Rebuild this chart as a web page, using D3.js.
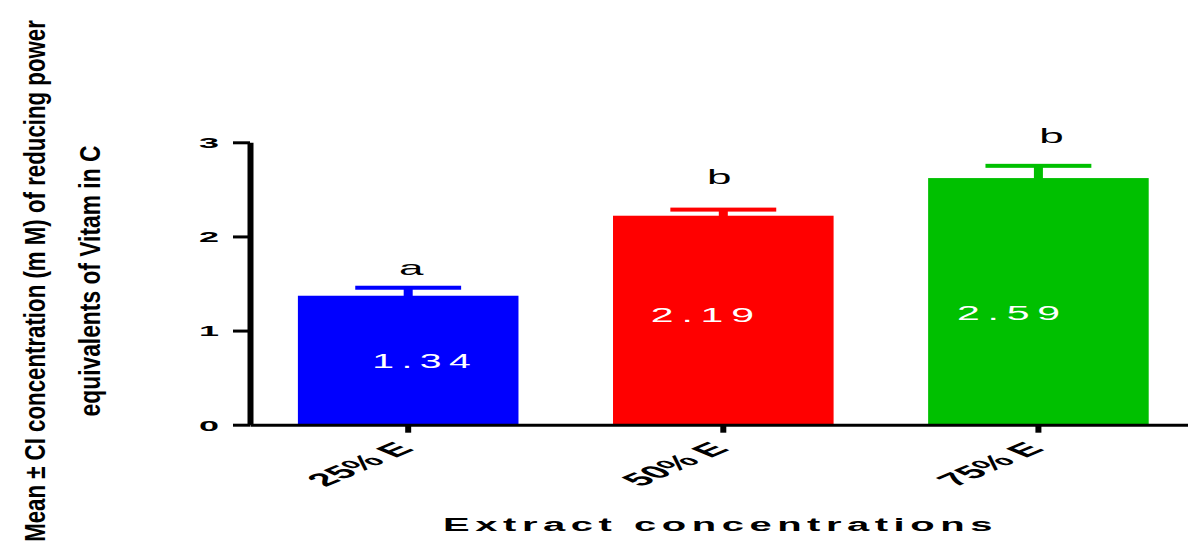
<!DOCTYPE html>
<html><head><meta charset="utf-8">
<script src="https://cdn.jsdelivr.net/npm/d3@7"></script>
<style>body{margin:0;background:#fff} svg{display:block}</style>
</head><body>
<svg id="c" width="1188" height="552"></svg>
<script>
// ---- data ----
const categories = ["25% E", "50% E", "75% E"];
const means = [1.37, 2.22, 2.62];
const errors = [0.085, 0.065, 0.13];
const valueLabels = ["1.34", "2.19", "2.59"];
const letters = ["a", "b", "b"];
const colors = ["#0000ff", "#ff0000", "#00c000"];
const yTicks = [0, 1, 2, 3];
const xTitle = "Extract concentrations";
const yTitleLines = ["Mean ± CI concentration (m M) of reducing power", "equivalents of Vitam in C"];

// ---- layout ----
const svg = d3.select("#c");
const FONT = "'Liberation Sans', Arial, Helvetica, sans-serif";
const x = d3.scaleBand().domain(categories).range([250, 1196.6]).paddingInner(0.3).paddingOuter(0.152);
const y = d3.scaleLinear().domain([0, 3]).range([424.7, 142.3]);
const data = categories.map((c, i) => ({c, v: means[i], e: errors[i], lab: valueLabels[i], let: letters[i], col: colors[i], i}));

function fitWidth(sel, target) {
  sel.each(function() {
    const len = this.getComputedTextLength();
    const sx = target / len;
    const t = d3.select(this).attr("data-t") || "";
    d3.select(this).attr("transform", t + ` scale(${sx},1)`);
  });
}

// bars
svg.append("g").selectAll("rect").data(data).join("rect")
  .attr("x", d => x(d.c)).attr("width", x.bandwidth())
  .attr("y", d => y(d.v)).attr("height", d => y(0) - y(d.v))
  .attr("fill", d => d.col);

// error bars
const eg = svg.append("g");
eg.selectAll(".stem").data(data).join("rect")
  .attr("x", d => x(d.c) + x.bandwidth() / 2 - 4.5).attr("width", 9)
  .attr("y", d => y(d.v + d.e)).attr("height", d => y(d.v) - y(d.v + d.e) + 1)
  .attr("fill", d => d.col);
eg.selectAll(".cap").data(data).join("rect")
  .attr("x", d => x(d.c) + x.bandwidth() / 2 - x.bandwidth() * 0.24).attr("width", x.bandwidth() * 0.48)
  .attr("y", d => y(d.v + d.e) - 2).attr("height", 4)
  .attr("fill", d => d.col);

// significance letters
const letDx = [3, -4, 13], letGap = [13, 26, 23];
svg.append("g").selectAll("text").data(data).join("text")
  .attr("transform", d => `translate(${x(d.c) + x.bandwidth() / 2 + letDx[d.i]},${y(d.v + d.e) - letGap[d.i]}) scale(2.2,1)`)
  .attr("text-anchor", "middle").attr("font-family", FONT).attr("font-size", 20)
  .attr("fill", "#000").text(d => d.let);

// value labels inside bars
const labDx = [17, -17, -26], labY = [368, 322, 320], labW = [106, 111, 111];
svg.append("g").selectAll("text").data(data).join("text")
  .attr("data-t", d => `translate(${x(d.c) + x.bandwidth() / 2 + labDx[d.i]},${labY[d.i]})`)
  .attr("text-anchor", "middle").attr("font-family", FONT).attr("font-size", 21)
  .attr("letter-spacing", 4).attr("fill", "#fff").text(d => d.lab)
  .each(function(d) { fitWidth(d3.select(this), labW[d.i]); });

// y axis
const ya = svg.append("g").attr("transform", "translate(250,0)")
  .call(d3.axisLeft(y).tickValues(yTicks).tickSize(17).tickSizeOuter(0).tickFormat(d3.format("d")));
ya.select(".domain").attr("stroke", "#000").attr("stroke-width", 6);
ya.selectAll(".tick line").attr("stroke", "#000").attr("stroke-width", 3);
ya.selectAll(".tick text").attr("x", 0).attr("dy", "0.36em")
  .attr("transform", "translate(-31,0) scale(2.4,1)")
  .attr("font-family", FONT).attr("font-weight", "bold").attr("font-size", 15).attr("fill", "#000");

// x axis
const xa = svg.append("g").attr("transform", `translate(0,${y(0)})`)
  .call(d3.axisBottom(x).tickSize(7).tickSizeOuter(0));
xa.select(".domain").attr("stroke", "#000").attr("stroke-width", 3);
xa.selectAll(".tick line").attr("stroke", "#000").attr("stroke-width", 6).attr("y1", 1).attr("y2", 8);
xa.selectAll(".tick text").attr("x", 0).attr("y", 0).attr("dy", 0)
  .attr("text-anchor", "end")
  .attr("transform", "translate(7,25) scale(2.4,1) rotate(-45)")
  .attr("font-family", FONT).attr("font-weight", "bold").attr("font-size", 18).attr("fill", "#000");

// x title
svg.append("text").attr("data-t", "translate(720.5,531)")
  .attr("text-anchor", "middle").attr("font-family", FONT).attr("font-weight", "bold")
  .attr("font-size", 18).attr("letter-spacing", 2.5).attr("fill", "#000").text(xTitle)
  .call(s => fitWidth(s, 555));

// y title (condensed along the text direction)
const yLens = [522, 271], yBase = [45, 100];
yTitleLines.forEach((t, i) => {
  svg.append("text")
    .attr("data-t", `translate(${yBase[i]},281) rotate(-90)`)
    .attr("text-anchor", "middle")
    .attr("font-family", FONT)
    .attr("font-weight", "bold").attr("font-size", 30).attr("fill", "#000")
    .text(t)
    .call(s => fitWidth(s, yLens[i]));
});
</script>
</body></html>
